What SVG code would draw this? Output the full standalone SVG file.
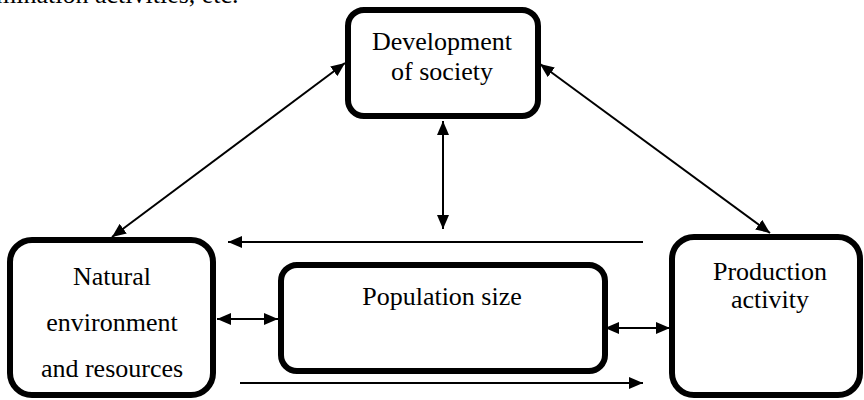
<svg xmlns="http://www.w3.org/2000/svg" width="864" height="400" viewBox="0 0 864 400">
<style>
.box{fill:#fff;stroke:#000;stroke-width:6}
.t{font-family:'Liberation Serif','Times New Roman',serif;font-size:26px;fill:#000;text-anchor:middle}
.c{stroke:#000;stroke-width:2;fill:none}
</style>
<defs>
<marker id="ah" viewBox="0 0 14 12" refX="14" refY="6" markerWidth="14" markerHeight="12" markerUnits="userSpaceOnUse" orient="auto-start-reverse">
<path d="M0,0 L14,6 L0,12 z" fill="#000"/>
</marker>
</defs>
<rect width="864" height="400" fill="#fff"/>
<text x="-4" y="3" class="t" style="text-anchor:start">mination activities, etc.</text>
<g id="connectors">
<line class="c" x1="345" y1="63" x2="112" y2="237" marker-start="url(#ah)" marker-end="url(#ah)"/>
<line class="c" x1="540" y1="64" x2="770" y2="233" marker-start="url(#ah)" marker-end="url(#ah)"/>
<line class="c" x1="443" y1="121" x2="443" y2="229" marker-start="url(#ah)" marker-end="url(#ah)"/>
<line class="c" x1="643" y1="242" x2="228" y2="242" marker-end="url(#ah)"/>
<line class="c" x1="240" y1="383" x2="643" y2="383" marker-end="url(#ah)"/>
<line class="c" x1="217" y1="319" x2="278" y2="319" marker-start="url(#ah)" marker-end="url(#ah)"/>
<line class="c" x1="605" y1="328" x2="670" y2="328" marker-start="url(#ah)" marker-end="url(#ah)"/>
</g>
<g id="development">
<rect class="box" x="348" y="10" width="190" height="106" rx="16"/>
<text class="t" x="442" y="50">Development</text>
<text class="t" x="442" y="80">of society</text>
</g>
<g id="natural">
<rect class="box" x="10" y="240" width="203" height="155" rx="22"/>
<text class="t" x="112" y="285">Natural</text>
<text class="t" x="112" y="331">environment</text>
<text class="t" x="112" y="377">and resources</text>
</g>
<g id="population">
<rect class="box" x="281" y="265" width="324" height="106" rx="16"/>
<text class="t" x="442" y="305">Population size</text>
</g>
<g id="production">
<rect class="box" x="672" y="237" width="188" height="158" rx="22"/>
<text class="t" x="770" y="280">Production</text>
<text class="t" x="770" y="308">activity</text>
</g>
</svg>
